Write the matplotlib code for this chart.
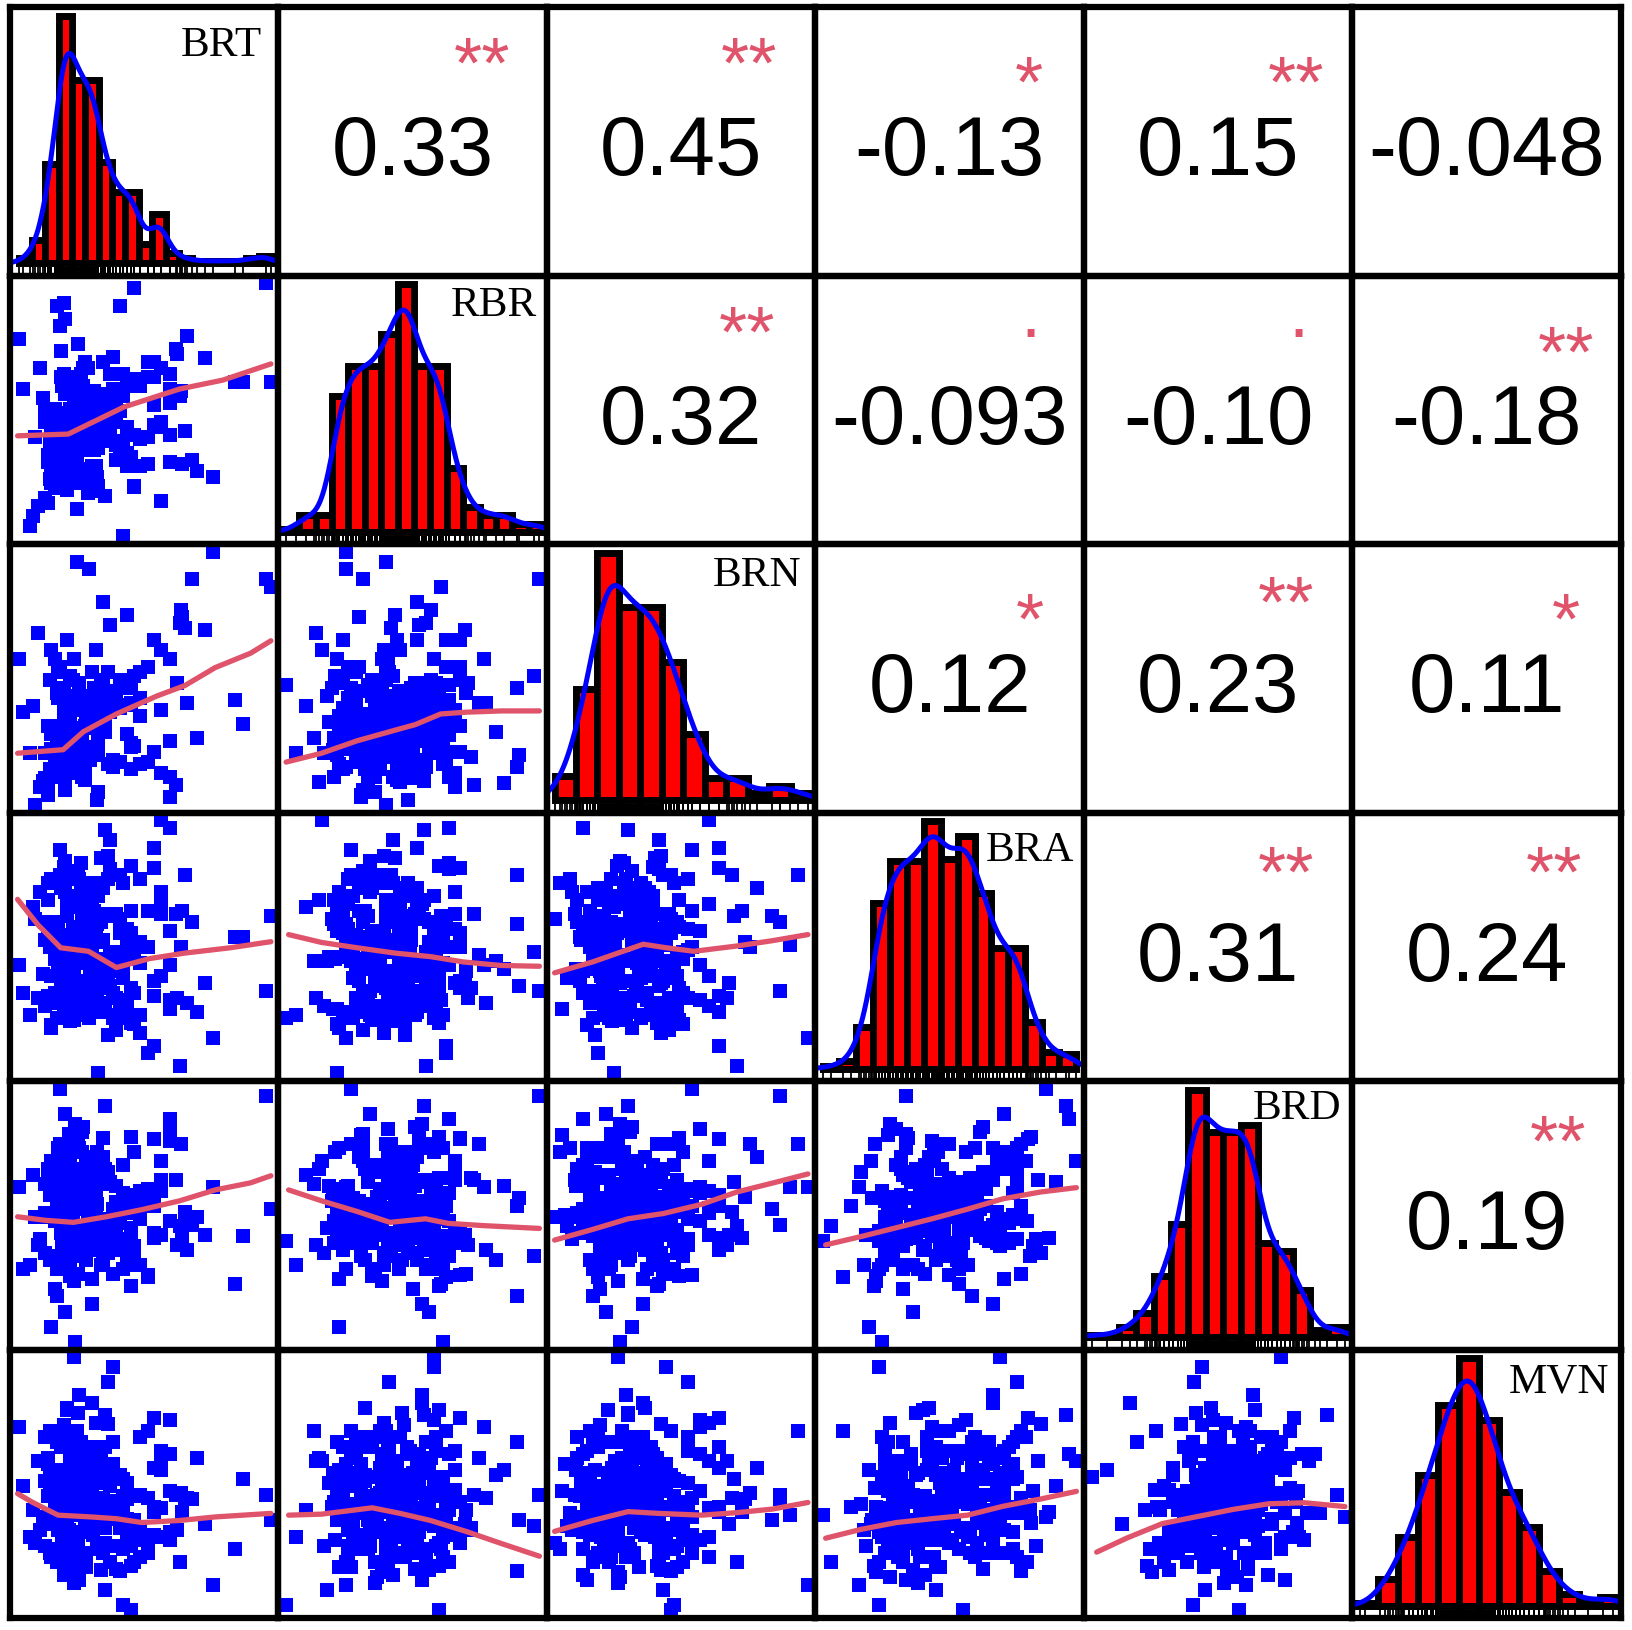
import math
import numpy as np
import matplotlib
matplotlib.use("Agg")
import matplotlib.pyplot as plt

# ---------------- data (values in 0..100 units of each variable's range) -------------
names = ["BRT", "RBR", "BRN", "BRA", "BRD", "MVN"]

BRT = [22.8, 39.0, 16.1, 29.2, 63.0, 18.9, 26.0, 32.8, 11.0, 48.5, 21.3, 30.8, 17.6, 43.0, 24.4, 13.2, 35.5, 27.6, 56.5, 20.1,
       31.4, 18.2, 60.0, 25.1, 6.0, 36.6, 20.8, 28.2, 41.6, 14.8, 77.0, 25.4, 19.6, 31.9, 15.5, 46.0, 28.6, 22.2, 18.4, 37.5,
       19.4, 27.0, 44.6, 12.7, 33.8, 23.4, 66.0, 16.8, 29.8, 20.5, 40.6, 12.0, 54.0, 23.8, 30.2, 21.8, 17.2, 34.5, 26.6, 51.5,
       48.5, 9.0, 26.0, 35.5, 20.1, 29.2, 16.1, 56.5, 22.8, 30.8, 18.9, 43.0, 27.6, 13.2, 39.0, 24.4, 98.0, 21.3, 32.8, 17.6,
       25.4, 36.6, 19.6, 64.0, 31.4, 14.8, 41.6, 22.2, 18.2, 28.2, 60.0, 20.8, 31.9, 2.0, 25.1, 37.5, 15.5, 28.6, 46.0, 18.4,
       16.8, 54.0, 29.8, 21.8, 40.6, 23.8, 11.0, 33.8, 51.5, 19.4, 26.6, 71.0, 12.7, 30.2, 20.5, 27.0, 44.6, 17.2, 23.4, 34.5,
       35.5, 21.3, 8.0, 30.8, 26.0, 48.5, 18.9, 39.0, 27.6, 62.5, 16.1, 24.4, 43.0, 20.1, 29.2, 17.6, 32.8, 56.5, 13.2, 22.8,
       28.2, 14.8, 31.9, 46.0, 18.2, 89.0, 31.4, 19.6, 36.6, 25.1, 41.6, 15.5, 22.2, 28.6, 60.0, 12.0, 20.8, 25.4, 37.5, 18.4,
       20.5, 30.2, 67.0, 17.2, 44.6, 27.0, 23.4, 12.7, 54.0, 33.8, 10.0, 40.6, 29.8, 21.8, 34.5, 19.4, 26.6, 51.5, 16.8, 23.8,
       43.0, 24.4, 18.9, 27.6, 13.2, 32.8, 56.5, 29.2, 21.3, 5.0, 35.5, 17.6, 74.0, 26.0, 22.8, 30.8, 48.5, 16.1, 20.1, 39.0,
       14.8, 46.0, 28.2, 37.5, 22.2, 18.2, 36.6, 100.0, 15.5, 28.6, 19.6, 31.9, 25.1, 60.0, 12.0, 41.6, 18.4, 31.4, 20.8, 25.4,
       33.8, 20.5, 40.6, 7.0, 54.0, 26.6, 12.7, 23.8, 30.2, 44.6, 17.2, 27.0, 51.5, 19.4, 65.0, 23.4, 34.5, 21.8, 29.8, 16.8,
       24.4, 69.0, 21.3, 32.8, 16.1, 43.0, 29.2, 18.9, 39.0, 22.8, 48.5, 13.2, 30.8, 35.5, 17.6, 26.0, 11.0, 27.6, 56.5, 20.1,
       60.0, 28.6, 18.2, 22.2, 36.6, 0.5, 46.0, 25.4, 19.6, 37.5, 31.4, 18.4, 15.5, 86.0, 28.2, 20.8, 25.1, 41.6, 31.9, 14.8,
       29.8, 19.4, 51.5, 26.6, 21.8, 30.2, 17.2, 44.6, 64.5, 16.8, 23.8, 34.5, 12.0, 23.4, 33.8, 54.0, 12.7, 40.6, 27.0, 20.5]

RBR = [48.8, 51.0, 24.6, 21.0, 72.0, 33.1, 59.2, 56.4, 45.1, 62.0, 40.8, 38.5, 27.6, 43.1, 35.9, 47.0, 53.6, 17.0, 66.5, 30.3,
       42.4, 44.5, 64.2, 61.0, 8.0, 55.4, 50.2, 26.6, 37.7, 20.0, 23.5, 48.2, 32.2, 34.9, 91.0, 40.1, 46.4, 58.2, 29.4, 52.6,
       19.0, 25.8, 60.2, 36.9, 51.8, 63.0, 41.6, 45.8, 54.6, 34.1, 49.5, 31.3, 68.8, 76.0, 57.4, 22.6, 28.6, 47.6, 43.8, 39.3,
       59.2, 66.5, 43.1, 40.8, 33.1, 27.6, 21.0, 14.0, 35.9, 48.8, 56.4, 62.0, 45.1, 24.6, 30.3, 53.6, 100.0, 38.5, 51.0, 47.0,
       34.9, 37.7, 32.2, 55.4, 48.2, 29.4, 0.0, 52.6, 46.4, 44.5, 40.1, 42.4, 50.2, 58.2, 64.2, 71.0, 23.5, 26.6, 61.0, 20.0,
       83.0, 51.8, 47.6, 45.8, 57.4, 54.6, 49.5, 68.8, 28.6, 31.3, 34.1, 25.8, 22.6, 18.0, 43.8, 36.9, 60.2, 63.0, 39.3, 41.6,
       40.8, 56.4, 12.0, 27.6, 43.1, 38.5, 33.1, 35.9, 66.5, 74.0, 47.0, 53.6, 59.2, 30.3, 24.6, 48.8, 51.0, 45.1, 21.0, 62.0,
       23.5, 32.2, 50.2, 19.5, 26.6, 61.0, 46.4, 20.0, 42.4, 40.1, 64.2, 44.5, 37.7, 48.2, 58.2, 29.4, 34.9, 52.6, 55.4, 92.0,
       57.4, 22.6, 79.0, 31.3, 60.2, 41.6, 36.9, 49.5, 63.0, 51.8, 54.6, 34.1, 47.6, 39.3, 16.0, 28.6, 43.8, 68.8, 25.8, 45.8,
       27.6, 47.0, 30.3, 48.8, 21.0, 56.4, 43.1, 40.8, 24.6, 4.0, 38.5, 59.2, 70.5, 66.5, 53.6, 45.1, 62.0, 35.9, 33.1, 51.0,
       50.2, 98.0, 44.5, 58.2, 37.7, 42.4, 64.2, 61.0, 48.2, 46.4, 18.5, 20.0, 40.1, 52.6, 32.2, 55.4, 29.4, 23.5, 34.9, 26.6,
       45.8, 41.6, 57.4, 39.3, 68.8, 25.8, 31.3, 34.1, 36.9, 60.2, 73.0, 51.8, 63.0, 22.6, 28.6, 11.0, 54.6, 49.5, 47.6, 43.8,
       21.0, 30.3, 35.9, 43.1, 24.6, 33.1, 53.6, 86.0, 45.1, 38.5, 27.6, 40.8, 48.8, 47.0, 62.0, 51.0, 15.0, 56.4, 66.5, 59.2,
       29.4, 42.4, 26.6, 34.9, 52.6, 78.0, 20.0, 46.4, 58.2, 55.4, 44.5, 64.2, 23.5, 61.0, 48.2, 37.7, 40.1, 32.2, 50.2, 19.0,
       54.6, 60.2, 63.0, 68.8, 36.9, 34.1, 39.3, 31.3, 57.4, 25.8, 51.8, 47.6, 13.0, 28.6, 41.6, 43.8, 22.6, 91.0, 45.8, 49.5]

BRN = [20.3, 45.0, 52.6, 35.0, 48.2, 25.9, 30.4, 42.1, 9.0, 16.1, 23.9, 61.0, 18.5, 75.0, 28.1, 12.6, 39.6, 32.7, 37.3, 22.1,
       41.3, 17.9, 11.2, 27.4, 38.9, 36.6, 23.3, 34.3, 47.2, 57.5, 100.0, 19.7, 21.5, 5.0, 15.1, 50.8, 32.0, 25.2, 29.7, 44.0,
       26.6, 33.5, 22.7, 14.0, 28.9, 20.9, 70.0, 19.1, 35.8, 49.2, 46.0, 31.2, 65.0, 40.4, 38.1, 24.5, 17.1, 42.9, 10.0, 54.4,
       35.0, 7.0, 37.3, 42.1, 12.6, 52.6, 16.1, 61.0, 25.9, 30.4, 20.3, 39.6, 32.7, 22.1, 45.0, 28.1, 89.0, 23.9, 48.2, 18.5,
       11.2, 41.3, 32.0, 72.0, 2.0, 29.7, 47.2, 15.1, 17.9, 21.5, 57.5, 50.8, 38.9, 36.6, 27.4, 44.0, 25.2, 34.3, 23.3, 19.7,
       28.9, 65.0, 20.9, 24.5, 38.1, 17.1, 10.5, 49.2, 54.4, 35.8, 31.2, 26.6, 14.0, 46.0, 22.7, 33.5, 40.4, 19.1, 96.0, 42.9,
       52.6, 23.9, 68.0, 37.3, 22.1, 42.1, 20.3, 39.6, 32.7, 8.0, 16.1, 12.6, 48.2, 30.4, 35.0, 18.5, 45.0, 61.0, 28.1, 25.9,
       93.0, 11.2, 27.4, 50.8, 34.3, 32.0, 36.6, 23.3, 41.3, 38.9, 47.2, 44.0, 25.2, 17.9, 57.5, 4.0, 21.5, 29.7, 15.1, 19.7,
       33.5, 38.1, 40.4, 19.1, 24.5, 22.7, 26.6, 31.2, 65.0, 80.0, 9.5, 17.1, 35.8, 49.2, 42.9, 20.9, 14.0, 54.4, 46.0, 28.9,
       39.6, 28.1, 6.0, 32.7, 30.4, 48.2, 61.0, 52.6, 23.9, 20.3, 42.1, 22.1, 69.0, 12.6, 25.9, 37.3, 35.0, 16.1, 18.5, 45.0,
       17.9, 50.8, 34.3, 44.0, 57.5, 11.2, 41.3, 86.0, 15.1, 32.0, 21.5, 23.3, 27.4, 25.2, 10.0, 47.2, 19.7, 36.6, 38.9, 29.7,
       31.2, 22.7, 49.2, 0.0, 20.9, 40.4, 14.0, 42.9, 38.1, 46.0, 19.1, 35.8, 54.4, 65.0, 74.0, 26.6, 28.9, 24.5, 33.5, 17.1,
       48.2, 89.0, 25.9, 39.6, 42.1, 28.1, 35.0, 8.5, 45.0, 23.9, 52.6, 61.0, 37.3, 16.1, 18.5, 30.4, 20.3, 32.7, 12.6, 22.1,
       3.0, 34.3, 44.0, 25.2, 71.0, 57.5, 50.8, 27.4, 21.5, 17.9, 36.6, 38.9, 15.1, 41.3, 32.0, 23.3, 29.7, 47.2, 19.7, 11.2,
       38.1, 20.9, 17.1, 31.2, 26.6, 35.8, 19.1, 14.0, 77.0, 54.4, 28.9, 33.5, 9.0, 24.5, 40.4, 65.0, 49.2, 46.0, 42.9, 22.7]

BRA = [48.8, 23.2, 57.1, 71.6, 29.7, 84.0, 54.5, 35.5, 59.9, 43.6, 67.0, 26.6, 41.1, 51.7, 76.6, 19.0, 38.4, 46.1, 63.1, 32.6,
       34.6, 53.7, 97.0, 28.8, 65.6, 47.9, 40.3, 22.0, 75.0, 56.3, 14.0, 62.0, 50.8, 37.5, 58.9, 31.7, 45.3, 70.0, 25.5, 42.8,
       68.5, 44.4, 33.6, 49.8, 24.4, 57.9, 78.3, 52.7, 39.4, 21.0, 60.9, 30.7, 81.0, 46.9, 42.0, 55.3, 73.3, 27.7, 36.5, 64.3,
       23.2, 71.6, 48.8, 63.1, 41.1, 29.7, 59.9, 100.0, 26.6, 51.7, 35.5, 57.1, 43.6, 76.6, 17.0, 67.0, 32.6, 54.5, 38.4, 46.1,
       56.3, 34.6, 62.0, 3.0, 75.0, 45.3, 22.0, 42.8, 53.7, 65.6, 28.8, 47.9, 70.0, 31.7, 83.0, 40.3, 58.9, 37.5, 50.8, 25.5,
       44.4, 89.0, 39.4, 57.9, 27.7, 68.5, 52.7, 33.6, 64.3, 42.0, 73.3, 24.4, 55.3, 60.9, 30.7, 46.9, 20.0, 49.8, 78.3, 36.5,
       76.6, 51.7, 29.7, 41.1, 59.9, 16.0, 71.6, 46.1, 35.5, 63.1, 54.5, 32.6, 26.6, 80.0, 48.8, 38.4, 43.6, 67.0, 57.1, 23.2,
       50.8, 31.7, 70.0, 45.3, 37.5, 53.7, 28.8, 65.6, 92.0, 25.5, 42.8, 58.9, 21.0, 40.3, 56.3, 75.0, 22.0, 62.0, 47.9, 34.6,
       42.0, 64.3, 27.7, 52.7, 82.0, 33.6, 46.9, 57.9, 11.0, 73.3, 39.4, 55.3, 30.7, 68.5, 44.4, 24.4, 60.9, 49.8, 78.3, 36.5,
       54.5, 29.7, 76.6, 43.6, 18.0, 59.9, 38.4, 48.8, 67.0, 23.2, 86.0, 46.1, 35.5, 57.1, 26.6, 71.6, 51.7, 41.1, 32.6, 63.1,
       31.7, 47.9, 65.6, 22.0, 56.3, 40.3, 80.5, 62.0, 50.8, 34.6, 25.5, 0.0, 75.0, 42.8, 53.7, 37.5, 28.8, 58.9, 45.3, 70.0,
       73.3, 20.5, 46.9, 60.9, 36.5, 52.7, 27.7, 78.3, 42.0, 55.3, 33.6, 68.5, 49.8, 24.4, 64.3, 44.4, 96.0, 39.4, 57.9, 30.7,
       46.1, 59.9, 35.5, 85.0, 54.5, 23.2, 67.0, 41.1, 29.7, 48.8, 76.6, 38.4, 57.1, 15.0, 43.6, 63.1, 26.6, 51.7, 71.6, 32.6,
       25.5, 75.0, 50.8, 37.5, 62.0, 42.8, 19.5, 56.3, 70.0, 31.7, 45.3, 81.5, 22.0, 53.7, 34.6, 47.9, 65.6, 28.8, 40.3, 58.9,
       60.9, 39.4, 8.0, 55.3, 46.9, 73.3, 33.6, 64.3, 49.8, 88.0, 27.7, 44.4, 68.5, 36.5, 52.7, 30.7, 57.9, 78.3, 24.4, 42.0]

BRD = [35.2, 42.4, 59.6, 25.0, 38.4, 40.5, 55.1, 30.4, 50.7, 48.5, 76.5, 52.9, 46.3, 57.4, 67.0, 71.4, 44.2, 61.7, 63.9, 82.0,
       63.2, 28.6, 88.0, 39.9, 65.7, 47.8, 43.6, 56.7, 69.8, 58.9, 61.1, 41.8, 54.4, 45.6, 18.0, 37.7, 50.0, 74.8, 34.0, 52.3,
       39.1, 55.8, 41.1, 58.1, 32.2, 64.6, 51.4, 49.2, 36.4, 26.0, 47.0, 68.3, 80.0, 78.3, 62.4, 53.6, 73.0, 44.8, 43.0, 60.3,
       59.6, 40.5, 52.9, 67.0, 46.3, 50.7, 76.5, 71.4, 57.4, 55.1, 12.0, 30.4, 48.5, 61.7, 42.4, 63.9, 97.0, 35.2, 44.2, 38.4,
       52.3, 47.8, 63.2, 45.6, 74.8, 34.0, 39.9, 41.8, 43.6, 65.7, 84.0, 58.9, 69.8, 28.6, 37.7, 27.0, 61.1, 56.7, 54.4, 50.0,
       32.2, 41.1, 44.8, 51.4, 36.4, 43.0, 62.4, 80.5, 53.6, 47.0, 39.1, 49.2, 58.1, 55.8, 73.0, 60.3, 22.0, 64.6, 78.3, 68.3,
       40.5, 50.7, 38.4, 44.2, 61.7, 30.4, 90.0, 55.1, 67.0, 63.9, 52.9, 76.5, 35.2, 71.4, 57.4, 46.3, 48.5, 42.4, 59.6, 0.0,
       61.1, 65.7, 69.8, 74.8, 43.6, 41.8, 45.6, 39.9, 63.2, 34.0, 58.9, 54.4, 24.0, 37.7, 47.8, 50.0, 28.6, 83.0, 52.3, 56.7,
       58.1, 60.3, 36.4, 32.2, 81.0, 43.0, 68.3, 64.6, 53.6, 73.0, 49.2, 47.0, 39.1, 51.4, 44.8, 55.8, 62.4, 26.5, 78.3, 41.1,
       50.7, 52.9, 76.5, 71.4, 6.0, 63.9, 59.6, 38.4, 46.3, 30.4, 35.2, 57.4, 42.4, 44.2, 86.0, 48.5, 55.1, 67.0, 40.5, 61.7,
       21.0, 34.0, 65.7, 43.6, 58.9, 69.8, 47.8, 52.3, 61.1, 41.8, 56.7, 39.9, 74.8, 79.5, 63.2, 28.6, 37.7, 54.4, 50.0, 45.6,
       68.3, 78.3, 51.4, 49.2, 43.0, 39.1, 32.2, 27.0, 44.8, 58.1, 64.6, 73.0, 53.6, 36.4, 41.1, 62.4, 93.0, 47.0, 60.3, 55.8,
       44.2, 46.3, 42.4, 63.9, 57.4, 40.5, 15.0, 61.7, 55.1, 52.9, 48.5, 50.7, 59.6, 67.0, 76.5, 85.0, 35.2, 38.4, 71.4, 30.4,
       81.5, 58.9, 54.4, 52.3, 63.2, 61.1, 56.7, 74.8, 37.7, 39.9, 41.8, 34.0, 28.6, 23.0, 50.0, 43.6, 65.7, 69.8, 45.6, 47.8,
       49.2, 64.6, 25.5, 39.1, 51.4, 47.0, 43.0, 44.8, 78.3, 100.0, 55.8, 62.4, 68.3, 41.1, 36.4, 58.1, 60.3, 53.6, 32.2, 73.0]

MVN = [45.7, 40.3, 42.1, 47.7, 31.7, 25.5, 63.1, 16.0, 68.6, 21.0, 58.8, 74.0, 38.3, 43.9, 52.5, 34.0, 36.2, 50.1, 55.3, 28.8,
       35.5, 49.3, 61.6, 37.7, 39.7, 54.3, 27.8, 30.9, 51.7, 47.0, 10.0, 43.3, 45.1, 33.3, 66.5, 19.2, 41.5, 100.0, 24.4, 57.6,
       42.7, 17.0, 26.6, 70.7, 56.3, 29.9, 44.5, 48.4, 39.0, 40.9, 53.3, 50.9, 76.0, 60.0, 36.9, 46.3, 64.6, 32.5, 34.7, 22.8,
       68.6, 31.7, 47.7, 52.5, 42.1, 50.1, 55.3, 58.8, 13.0, 63.1, 34.0, 28.8, 40.3, 21.0, 25.5, 85.0, 45.7, 43.9, 36.2, 38.3,
       30.9, 57.6, 35.5, 19.2, 24.4, 43.3, 2.0, 37.7, 73.0, 33.3, 27.8, 41.5, 61.6, 49.3, 47.0, 39.7, 51.7, 54.3, 45.1, 66.5,
       53.3, 39.0, 44.5, 46.3, 34.7, 22.8, 50.9, 42.7, 29.9, 80.0, 64.6, 60.0, 48.4, 40.9, 56.3, 32.5, 17.5, 36.9, 70.7, 26.6,
       90.0, 55.3, 58.8, 63.1, 21.0, 31.7, 38.3, 36.2, 43.9, 45.7, 47.7, 12.0, 25.5, 68.6, 34.0, 42.1, 40.3, 28.8, 50.1, 52.5,
       37.7, 24.4, 54.3, 27.8, 33.3, 51.7, 41.5, 66.5, 49.3, 30.9, 39.7, 47.0, 15.0, 45.1, 75.0, 57.6, 19.2, 61.6, 43.3, 35.5,
       60.0, 64.6, 44.5, 42.7, 34.7, 48.4, 46.3, 22.8, 40.9, 56.3, 36.9, 32.5, 29.9, 39.0, 8.0, 50.9, 53.3, 26.6, 70.7, 78.0,
       50.1, 21.0, 38.3, 36.2, 55.3, 42.1, 40.3, 63.1, 25.5, 28.8, 73.5, 52.5, 34.0, 47.7, 58.8, 43.9, 45.7, 68.6, 31.7, 16.5,
       39.7, 33.3, 51.7, 96.0, 61.6, 14.0, 19.2, 35.5, 47.0, 43.3, 54.3, 37.7, 66.5, 30.9, 45.1, 24.4, 27.8, 57.6, 41.5, 49.3,
       22.8, 48.4, 36.9, 26.6, 29.9, 60.0, 53.3, 40.9, 56.3, 0.0, 32.5, 46.3, 44.5, 64.6, 39.0, 70.7, 77.0, 42.7, 50.9, 34.7,
       17.0, 43.9, 45.7, 58.8, 31.7, 36.2, 82.0, 55.3, 40.3, 52.5, 68.6, 21.0, 50.1, 42.1, 28.8, 38.3, 25.5, 34.0, 63.1, 47.7,
       47.0, 30.9, 27.8, 11.0, 51.7, 72.5, 35.5, 43.3, 33.3, 66.5, 41.5, 39.7, 19.2, 24.4, 61.6, 49.3, 57.6, 45.1, 37.7, 54.3,
       34.7, 79.0, 70.7, 32.5, 39.0, 40.9, 48.4, 29.9, 46.3, 36.9, 26.6, 64.6, 60.0, 53.3, 44.5, 56.3, 50.9, 15.5, 22.8, 42.7]

# histogram bar heights (relative to tallest bar) and bin ranges
hist_BRT = [0.02, 0.095, 0.40, 1.0, 0.74, 0.74, 0.41, 0.29, 0.29, 0.08, 0.20, 0.04,
            0.02, 0.01, 0.01, 0.01, 0.01, 0.02, 0.03]
hist_RBR = [0.01, 0.07, 0.07, 0.55, 0.67, 0.67, 0.80, 1.0, 0.67, 0.67, 0.26, 0.10,
            0.07, 0.07, 0.03, 0.03]
hist_BRN = [0.10, 0.45, 1.0, 0.78, 0.78, 0.56, 0.27, 0.09, 0.09, 0.03, 0.06, 0.03]
hist_BRA = [0.01, 0.03, 0.17, 0.67, 0.84, 0.84, 1.0, 0.85, 0.94, 0.71, 0.49, 0.49,
            0.19, 0.07, 0.06]
hist_BRD = [0.01, 0.01, 0.04, 0.10, 0.25, 0.46, 1.0, 0.83, 0.83, 0.86, 0.38, 0.35,
            0.19, 0.03, 0.04]
hist_MVN = [0.01, 0.11, 0.28, 0.53, 0.81, 1.0, 0.75, 0.46, 0.32, 0.14, 0.05, 0.02, 0.035]
hist_lo = [0.4, -1.3, 0.0, -0.2, -3.0, -0.9]
hist_hi = [100.6, 102.3, 101.6, 99.8, 100.0, 102.5]

# correlation texts (upper triangle, row-major)
corr_cells = [(0, 1), (0, 2), (0, 3), (0, 4), (0, 5),
              (1, 2), (1, 3), (1, 4), (1, 5),
              (2, 3), (2, 4), (2, 5),
              (3, 4), (3, 5),
              (4, 5)]
corr_values = ["0.33", "0.45", "-0.13", "0.15", "-0.048",
               "0.32", "-0.093", "-0.10", "-0.18",
               "0.12", "0.23", "0.11",
               "0.31", "0.24",
               "0.19"]
corr_signif = ["**", "**", "*", "**", "",
               "**", ".", ".", "**",
               "*", "**", "*",
               "**", "**",
               "**"]

# smoothed (loess) lines: (row, col) -> x, y
sm_10_x = [0, 20, 42, 64, 81, 100]
sm_10_y = [39.7, 40.4, 51.1, 58.2, 61.7, 68.1]
sm_20_x = [0, 18, 26, 39, 55, 66, 78, 92, 100]
sm_20_y = [20.4, 21.8, 28.9, 35.9, 43.0, 47.1, 54.2, 59.9, 64.8]
sm_21_x = [0, 14, 28, 43, 51, 61, 71, 85, 100]
sm_21_y = [16.9, 20.4, 25.3, 29.5, 31.7, 35.9, 36.6, 37.1, 37.1]
sm_30_x = [0, 8, 17, 28, 39, 52, 66, 84, 100]
sm_30_y = [68.7, 58.7, 49.6, 48.2, 41.8, 45.3, 47.5, 49.6, 52.0]
sm_31_x = [1, 14, 28, 43, 57, 70, 85, 100]
sm_31_y = [54.8, 51.7, 49.6, 47.5, 46.1, 44.0, 42.6, 42.3]
sm_32_x = [0, 15, 25, 35, 44, 55, 72, 86, 100]
sm_32_y = [39.7, 44.0, 47.5, 51.0, 49.6, 48.2, 50.3, 52.4, 54.8]
sm_40_x = [0, 11, 22, 35, 49, 64, 78, 92, 100]
sm_40_y = [49.4, 48.0, 47.2, 49.4, 52.2, 55.7, 60.0, 62.8, 65.6]
sm_41_x = [1, 14, 28, 41, 55, 64, 78, 100]
sm_41_y = [60.0, 55.7, 51.5, 47.2, 48.6, 46.8, 45.9, 44.8]
sm_42_x = [0, 15, 29, 43, 58, 72, 86, 100]
sm_42_y = [40.2, 44.4, 48.6, 50.7, 54.3, 59.2, 62.7, 66.3]
sm_43_x = [1, 15, 29, 43, 57, 71, 86, 100]
sm_43_y = [38.3, 41.6, 45.1, 48.6, 52.4, 56.5, 59.2, 60.9]
sm_50_x = [0, 6, 16, 29, 39, 49, 64, 78, 100]
sm_50_y = [46.1, 42.6, 37.6, 36.9, 36.2, 34.7, 35.5, 36.9, 38.3]
sm_51_x = [1, 14, 34, 45, 57, 71, 85, 100]
sm_51_y = [37.6, 38.0, 40.5, 38.3, 35.5, 31.2, 26.4, 21.4]
sm_52_x = [0, 15, 29, 41, 58, 72, 86, 100]
sm_52_y = [31.2, 35.5, 39.0, 38.3, 37.6, 38.6, 40.0, 42.6]
sm_53_x = [1, 15, 29, 43, 57, 71, 86, 100]
sm_53_y = [28.5, 32.0, 34.7, 36.2, 37.6, 41.1, 44.0, 47.0]
sm_54_x = [2, 14, 28, 42, 56, 70, 84, 100]
sm_54_y = [23.0, 28.6, 34.3, 37.1, 39.9, 42.1, 42.5, 41.0]

# ---------------- assemble ----------------
variables = [BRT, RBR, BRN, BRA, BRD, MVN]
n_obs = min(len(v) for v in variables)
variables = [np.asarray(v[:n_obs], dtype=float) for v in variables]
hists = [hist_BRT, hist_RBR, hist_BRN, hist_BRA, hist_BRD, hist_MVN]
smooth = {
    (1, 0): (sm_10_x, sm_10_y), (2, 0): (sm_20_x, sm_20_y), (2, 1): (sm_21_x, sm_21_y),
    (3, 0): (sm_30_x, sm_30_y), (3, 1): (sm_31_x, sm_31_y), (3, 2): (sm_32_x, sm_32_y),
    (4, 0): (sm_40_x, sm_40_y), (4, 1): (sm_41_x, sm_41_y), (4, 2): (sm_42_x, sm_42_y),
    (4, 3): (sm_43_x, sm_43_y), (5, 0): (sm_50_x, sm_50_y), (5, 1): (sm_51_x, sm_51_y),
    (5, 2): (sm_52_x, sm_52_y), (5, 3): (sm_53_x, sm_53_y), (5, 4): (sm_54_x, sm_54_y),
}

# ---------------- style ----------------
W, H = 1633, 1631
X0, Y0, P = 10.0, 8.0, 268.5
SPINE_LW = 4.5
PT_COLOR = "#0000FF"
SM_COLOR = "#DF536B"
LIM = (-3, 103)
HYLIM = (-0.049, 1.036)

# star glyph centre (fraction x, fraction from top) per upper cell
star_pos = {(0, 1): (0.757, 0.148), (0, 2): (0.752, 0.148), (0, 3): (0.795, 0.218),
            (0, 4): (0.79, 0.218), (1, 2): (0.745, 0.148), (1, 3): (0.80, 0.213),
            (1, 4): (0.80, 0.213), (1, 5): (0.795, 0.222), (2, 3): (0.80, 0.218),
            (2, 4): (0.752, 0.152), (2, 5): (0.795, 0.218), (3, 4): (0.752, 0.158),
            (3, 5): (0.752, 0.158), (4, 5): (0.765, 0.16)}
# diagonal label: right edge x fraction, baseline fraction from top
label_pos = [(0.939, 0.18), (0.963, 0.147), (0.946, 0.153),
             (0.963, 0.178), (0.957, 0.138), (0.955, 0.157)]

fig = plt.figure(figsize=(W / 100, H / 100), dpi=100)
fig.patch.set_facecolor("white")

_erf = np.vectorize(math.erf)


def Phi(z):
    return 0.5 * (1.0 + _erf(z / math.sqrt(2.0)))


def make_ax(r, c):
    left = (X0 + c * P) / W
    bottom = 1 - (Y0 + (r + 1) * P) / H
    ax = fig.add_axes([left, bottom, P / W, P / H])
    ax.set_facecolor("none")
    ax.set_xticks([])
    ax.set_yticks([])
    for s in ax.spines.values():
        s.set_linewidth(SPINE_LW)
        s.set_color("black")
        s.set_zorder(10)
    return ax


for r in range(6):
    for c in range(6):
        ax = make_ax(r, c)
        if r == c:
            heights = np.asarray(hists[r], dtype=float)
            nb = len(heights)
            edges = np.linspace(hist_lo[r], hist_hi[r], nb + 1)
            w = edges[1] - edges[0]
            ax.set_xlim(*LIM)
            ax.set_ylim(*HYLIM)
            ax.vlines(variables[r], HYLIM[0], HYLIM[0] + 0.03 * (HYLIM[1] - HYLIM[0]),
                      color="black", lw=1.3, zorder=1)
            ax.bar(edges[:-1], heights, width=w, align="edge", color="#FF0000",
                   edgecolor="black", linewidth=5.0, zorder=2)
            xs = np.linspace(LIM[0], LIM[1], 400)
            s = 0.6 * w
            dens = np.zeros_like(xs)
            for k in range(nb):
                dens += heights[k] * (Phi((xs - edges[k]) / s) - Phi((xs - edges[k + 1]) / s))
            ax.plot(xs, dens, color="#0000FF", lw=3.6, zorder=3, solid_capstyle="round")
            lx, lt = label_pos[r]
            ax.text(lx, 1 - lt, names[r], transform=ax.transAxes, ha="right",
                    va="baseline", fontsize=31, family=["Liberation Serif", "DejaVu Serif"],
                    color="black", zorder=4)
        elif r > c:
            ax.set_xlim(*LIM)
            ax.set_ylim(*LIM)
            ax.plot(variables[c], variables[r], "s", ms=9.4, color=PT_COLOR, mew=0,
                    zorder=2)
            sx, sy = smooth[(r, c)]
            ax.plot(sx, sy, color=SM_COLOR, lw=3.8, zorder=3, solid_capstyle="round")
        else:
            ax.set_xlim(0, 1)
            ax.set_ylim(0, 1)
            i = corr_cells.index((r, c))
            ax.text(0.5, 0.377, corr_values[i], ha="center", va="baseline",
                    fontsize=60, family=["Liberation Sans", "DejaVu Sans"], color="black")
            sig = corr_signif[i]
            if sig:
                fx, ft = star_pos[(r, c)]
                off = 0.0135 if sig == "." else 0.15
                ax.text(fx, 1 - ft - off, sig, ha="center", va="baseline",
                        fontsize=52, family=["Liberation Sans", "DejaVu Sans"],
                        color=SM_COLOR)

fig.savefig("out.png", dpi=100, facecolor="white")
